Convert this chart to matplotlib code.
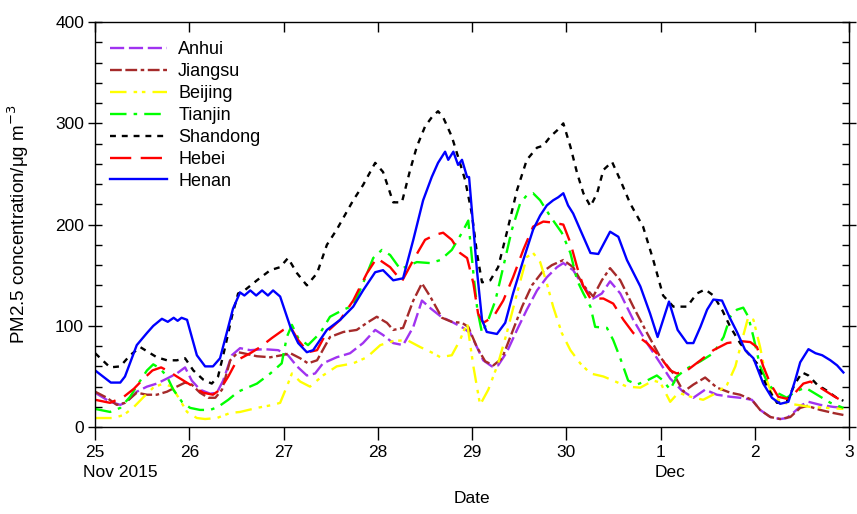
import matplotlib
matplotlib.use('Agg')
import matplotlib.pyplot as plt
import matplotlib.dates as mdates
from matplotlib.ticker import MultipleLocator
import pandas as pd

plt.rcParams['font.family'] = ['Liberation Sans', 'DejaVu Sans']

start = pd.Timestamp('2015-11-25 00:00')

# hours since 25 Nov 00:00, PM2.5 (ug m-3)
anhui_h = [0, 3.8, 6.4, 8.1, 10.6, 13.2, 15.7, 18.3, 20.8, 22.9, 24.6, 26.7, 29.3, 31, 32.6, 34.8, 36.9, 39.5, 43, 46.6,
           49.1, 51.4, 53.9, 56, 58, 61.5, 64.9, 68.2, 71.3, 73.3, 75.9, 78.4, 81, 83.2, 85.5, 88.1, 90.8, 93.7, 95.5, 97.2,
           98.8, 101, 102.6, 104.8, 107.4, 109.9, 112.5, 115, 117.6, 119.2, 121.7, 124.3, 126.8, 129, 131.1, 133.7, 137, 140.5, 143.9, 146.4,
           149.4, 152.3, 155.3, 158.3, 161.7, 164.2, 167.2, 169.3, 171.9, 174.4, 176.1, 177.7, 180, 181.6, 184.6, 187.9, 190.5]
anhui = [34, 25, 22, 25, 35, 40, 43, 48, 53, 59, 46, 37, 33, 34, 46, 71, 78, 76, 77, 76,
         71, 60, 51, 53, 63, 69, 73, 83, 96, 91, 83, 81, 99, 125, 117, 109, 104, 98, 93, 79,
         66, 60, 61, 74, 96, 116, 135, 148, 158, 162, 155, 139, 127, 132, 144, 132, 106, 83, 63, 48,
         36, 29, 37, 32, 30, 29, 27, 17, 10, 8, 9, 14, 22, 25, 22, 20, 19]

jiangsu_h = [0, 3, 5.5, 7.6, 10.6, 13.2, 15.7, 18.3, 20.8, 22.9, 24.6, 26.7, 28.8, 30.6, 32.3, 34.4, 36.4, 37.7, 41.2, 44.6,
             47.5, 49.7, 52.2, 54.2, 56.5, 59.8, 63.2, 66.6, 69.2, 71.7, 74.3, 75.9, 78.4, 81, 83.2, 85.3, 88.3, 90.8, 93.4, 95,
             97.2, 99.3, 101.4, 103.6, 106.1, 108.7, 111.2, 113.8, 116.3, 119.2, 121.7, 124.3, 126.8, 129, 131.1, 133.7, 137, 140.5, 143.9, 147.2,
             149.8, 152.3, 155.3, 158.3, 161.7, 164.2, 167.2, 169.3, 171.9, 174.4, 177, 179.5, 181.3, 184.6, 187.9, 190.5]
jiangsu = [35, 29, 22, 24, 34, 32, 32, 35, 40, 44, 42, 34, 29, 29, 37, 66, 74, 73, 70, 69,
           71, 73, 68, 63, 66, 89, 94, 96, 103, 109, 103, 96, 98, 125, 142, 129, 108, 104, 103, 99,
           79, 65, 61, 68, 93, 119, 140, 153, 160, 165, 158, 140, 129, 145, 157, 145, 119, 93, 69, 53,
           35, 42, 49, 39, 34, 32, 27, 17, 10, 8, 10, 19, 21, 17, 14, 12]

beijing_h = [0, 4.6, 7.3, 9.9, 12.4, 14.8, 17.3, 19.5, 21.1, 23.4, 25.9, 28, 31, 34.4, 36.9, 41.2, 45.3, 47.1, 48.8, 50.1,
             52.2, 54.7, 58, 61.5, 65.7, 69.2, 72.6, 75.9, 79.4, 82.8, 86.1, 87.9, 90.8, 92.9, 94.7, 96.3, 98, 100.1, 102.6, 104.8,
             107.4, 109.9, 111.5, 113.3, 115, 116.6, 118.8, 121, 123.5, 126.1, 129.4, 131.9, 135.4, 138.8, 142.1, 143.9, 146.4, 148.5, 151.6, 154.8,
             158.3, 160.9, 163, 164.7, 166.3, 167.6, 169.3, 171, 172.6, 175.2, 178.7, 182.1, 186.3, 190.5]
beijing = [9, 9, 12, 20, 30, 39, 43, 40, 30, 15, 9, 8, 9, 14, 15, 19, 22, 24, 40, 53,
           45, 40, 51, 60, 63, 69, 81, 85, 86, 79, 73, 69, 71, 86, 103, 60, 22, 37, 63, 93,
           132, 168, 172, 163, 142, 119, 93, 76, 63, 53, 50, 46, 40, 39, 46, 44, 25, 34, 30, 27,
           34, 42, 60, 86, 109, 106, 79, 46, 30, 24, 22, 20, 19, 18]

tianjin_h = [0, 3.8, 6.4, 8.9, 11, 13.2, 14.8, 16.5, 18.3, 19.9, 22.1, 24.2, 26.7, 29.3, 31.3, 33.9, 36.4, 41.2, 44.6, 47.5,
             48.8, 50.1, 51.7, 54.2, 57.3, 59.8, 63.2, 65.7, 68.2, 70.8, 73, 75.1, 77.7, 81.9, 85.3, 87.9, 90.8, 93.4, 95, 96.3,
             97.3, 98.5, 100.1, 101.9, 103.9, 106.1, 108.2, 109.9, 111.5, 113.3, 115.9, 118.8, 121, 122.7, 124.3, 126.1, 127.3, 130.3, 131.9, 133.7,
             135.7, 137.9, 140.5, 143, 144.6, 146.4, 148.1, 150.7, 154.1, 157.4, 160, 161.7, 163.4, 165, 166.3, 167.6, 169.3, 171.4, 173.6, 176.1,
             178.2, 180.8, 183.8, 187.2, 190.5]
tianjin = [18, 15, 19, 30, 43, 56, 62, 58, 50, 37, 25, 19, 17, 17, 20, 27, 35, 43, 53, 63,
           89, 101, 88, 81, 93, 109, 116, 120, 142, 167, 175, 170, 156, 163, 162, 165, 175, 192, 204, 152,
           116, 93, 106, 125, 158, 195, 221, 229, 231, 224, 208, 192, 172, 145, 132, 119, 99, 98, 86, 68,
           46, 42, 46, 51, 46, 37, 50, 58, 65, 73, 89, 109, 116, 118, 109, 89, 60, 42, 34, 29,
           35, 39, 32, 24, 19]

shandong_h = [0, 3.8, 6.4, 8.9, 11.5, 13.6, 15.7, 18.3, 20.8, 22.9, 25, 27.5, 29.7, 31.3, 33.1, 34.8, 36.4, 37.7, 41.2, 44.6,
              47.1, 49.1, 51.4, 53.9, 56.5, 59, 61.5, 65.7, 68.2, 71.3, 73.3, 75.9, 78.1, 80.2, 81.9, 84, 85.7, 87.3, 88.6, 90.8,
              92.4, 94.2, 95.9, 97.2, 98.5, 100.6, 102.6, 104.8, 107.4, 109.9, 112.5, 114.1, 115.9, 117.6, 119.2, 121, 122.7, 124.3, 126.1, 127.8,
              129.4, 131.6, 133.7, 136.2, 139.5, 142.1, 144.6, 147.2, 150.7, 153.2, 155.3, 157.4, 159.6, 161.7, 164.2, 166, 168.5, 171, 173.6, 176.1,
              178.2, 180, 181.6, 183.8, 186.3, 188.4, 190.5]
shandong = [73, 59, 60, 71, 79, 74, 69, 66, 66, 68, 56, 47, 43, 50, 79, 109, 132, 134, 145, 155,
            158, 167, 152, 140, 152, 180, 195, 224, 239, 261, 252, 222, 222, 254, 277, 297, 306, 312, 306, 287,
            267, 244, 211, 172, 143, 145, 158, 192, 234, 264, 276, 278, 287, 293, 300, 277, 251, 231, 218, 231,
            254, 262, 244, 221, 198, 165, 130, 119, 119, 132, 136, 130, 116, 99, 83, 74, 63, 40, 24, 25,
            43, 54, 51, 42, 36, 30, 26]

hebei_h = [0, 3.8, 7.3, 9.9, 12.4, 14.6, 16.8, 18.8, 20.8, 22.9, 25, 27.5, 30, 31.8, 33.9, 36.1, 39.5, 42, 45, 47.9,
           49.7, 51.7, 54.2, 56.5, 59, 62.4, 65.7, 69.2, 71.7, 75.1, 78.1, 81, 84, 86.6, 88.6, 90.8, 92.9, 94.7, 96.3, 97.5,
           98.8, 101.4, 103.9, 106.4, 109, 111.5, 114.1, 116.6, 119.2, 121, 122.7, 124.3, 126.1, 129.4, 131.9, 134.5, 137, 140.5, 143.9, 146.4,
           148.1, 150.7, 154.1, 157.4, 160.9, 164.2, 166.8, 168.5, 170.1, 171.9, 173.9, 176.1, 178.2, 180.3, 182.1, 184.6, 187.9, 190.5]
hebei = [27, 24, 30, 38, 48, 56, 59, 55, 50, 45, 40, 34, 32, 37, 50, 66, 73, 79, 88, 96,
         99, 86, 74, 76, 94, 106, 125, 152, 167, 158, 144, 165, 185, 190, 192, 185, 172, 167, 142, 112,
         103, 109, 125, 148, 175, 198, 203, 202, 200, 182, 158, 139, 127, 127, 122, 106, 93, 83, 69, 56,
         53, 56, 66, 76, 83, 85, 84, 79, 60, 43, 30, 28, 34, 43, 45, 39, 31, 25]

henan_h = [0, 4, 6.4, 7.6, 10.6, 13.2, 14.8, 17, 18.5, 20, 21, 22, 23.4, 25.9, 28, 30, 31.8, 33.5, 35.1, 36.9,
           38, 39.5, 41, 42.5, 44, 45.3, 47.1, 49.7, 51.7, 53.9, 55.5, 59, 62.4, 65.7, 68.2, 71.3, 73.3, 75.9, 78.4, 81,
           83.5, 85.7, 87.3, 89.1, 89.9, 91.2, 92.4, 93.4, 94.7, 95.2, 97.2, 98.5, 99.7, 102.3, 104.4, 106.4, 109, 111.5, 113.3, 115,
           116.6, 117.9, 119.2, 120.4, 121.7, 123.5, 126.1, 128.1, 131.1, 133.2, 135.4, 138.8, 141.3, 143.2, 146.1, 148.3, 150.7, 152.3, 154.1, 155.8,
           157.4, 159.6, 161.7, 163.4, 165.5, 167.6, 170.1, 172.3, 174.4, 176.5, 178.2, 179.5, 181.6, 183.4, 185.1, 187.2, 188.9, 190.5]
henan = [56, 44, 44, 50, 81, 93, 100, 107, 104, 108, 105, 108, 106, 71, 60, 60, 68, 93, 117, 133,
         130, 135, 130, 135, 130, 135, 129, 99, 83, 74, 76, 96, 106, 119, 135, 153, 155, 145, 147, 185,
         224, 247, 261, 272, 264, 272, 259, 264, 247, 247, 155, 106, 94, 92, 103, 132, 165, 195, 209, 219,
         224, 227, 231, 219, 211, 195, 172, 171, 193, 188, 165, 139, 112, 89, 124, 96, 83, 83, 99, 116,
         126, 125, 107, 94, 76, 68, 43, 29, 23, 25, 46, 64, 77, 73, 71, 66, 61, 54]

series = [
    ('Anhui', anhui_h, anhui, '#a033f0', (6, 2)),
    ('Jiangsu', jiangsu_h, jiangsu, '#a52a2a', (5, 1.5, 5, 1.5, 1.5, 1.5)),
    ('Beijing', beijing_h, beijing, '#ffff00', (7, 3, 1.5, 2, 1.5, 3)),
    ('Tianjin', tianjin_h, tianjin, '#00ff00', (7, 3, 1.5, 3)),
    ('Shandong', shandong_h, shandong, 'black', (2.5, 2.5)),
    ('Hebei', hebei_h, hebei, '#ff0000', (9, 4)),
    ('Henan', henan_h, henan, '#0000ff', None),
]

fig = plt.figure(figsize=(8.57, 5.14), dpi=100)
ax = fig.add_axes([0.111, 0.169, 0.880, 0.788])

for name, hrs, vals, col, dash in series:
    t = start + pd.to_timedelta(hrs, unit='h')
    if dash is None:
        ax.plot(t, vals, color=col, lw=1.7, label=name)
    else:
        ax.plot(t, vals, color=col, lw=1.7, dashes=dash, label=name)

ax.set_xlim(start, start + pd.Timedelta(days=8))
ax.set_ylim(0, 400)
ax.xaxis.set_major_locator(mdates.DayLocator())
ax.xaxis.set_major_formatter(mdates.DateFormatter('%-d'))
ax.yaxis.set_major_locator(MultipleLocator(100))
ax.yaxis.set_minor_locator(MultipleLocator(20))

ax.tick_params(axis='y', which='major', direction='inout', length=10, width=1, labelsize=12.5, right=True, pad=3)
ax.tick_params(axis='y', which='minor', direction='in', length=5, width=1, right=True)
ax.tick_params(axis='x', which='major', direction='out', length=9, width=1, labelsize=12.5, pad=4)
ax.tick_params(axis='x', which='major', top=True)
for t in ax.xaxis.get_major_ticks():
    t.tick2line.set_marker(matplotlib.lines.TICKDOWN)
    t.tick2line.set_markersize(7)
for sp in ax.spines.values():
    sp.set_linewidth(1)

# second line of date labels
for txt, day, dx in [('Nov 2015', start, -8.5), ('Dec', pd.Timestamp('2015-12-01'), -4.5)]:
    ax.annotate(txt, xy=(mdates.date2num(day), 0), xycoords=('data', 'axes fraction'),
                xytext=(dx, -27), textcoords='offset points',
                ha='left', va='top', fontsize=12.5)

ax.set_xlabel('Date', fontsize=12.5)
ax.xaxis.set_label_coords(0.5, -0.158)
ax.set_ylabel('PM2.5 concentration/\u03bcg m$^{-3}$', fontsize=13.5)
ax.yaxis.set_label_coords(-0.085, 0.5)

ax.legend(loc='upper left', frameon=False, fontsize=13, handlelength=3.15,
          labelspacing=0.27, borderaxespad=0.45, handletextpad=0.6, bbox_to_anchor=(0.0, 0.99))

fig.savefig('out.png', dpi=100)
